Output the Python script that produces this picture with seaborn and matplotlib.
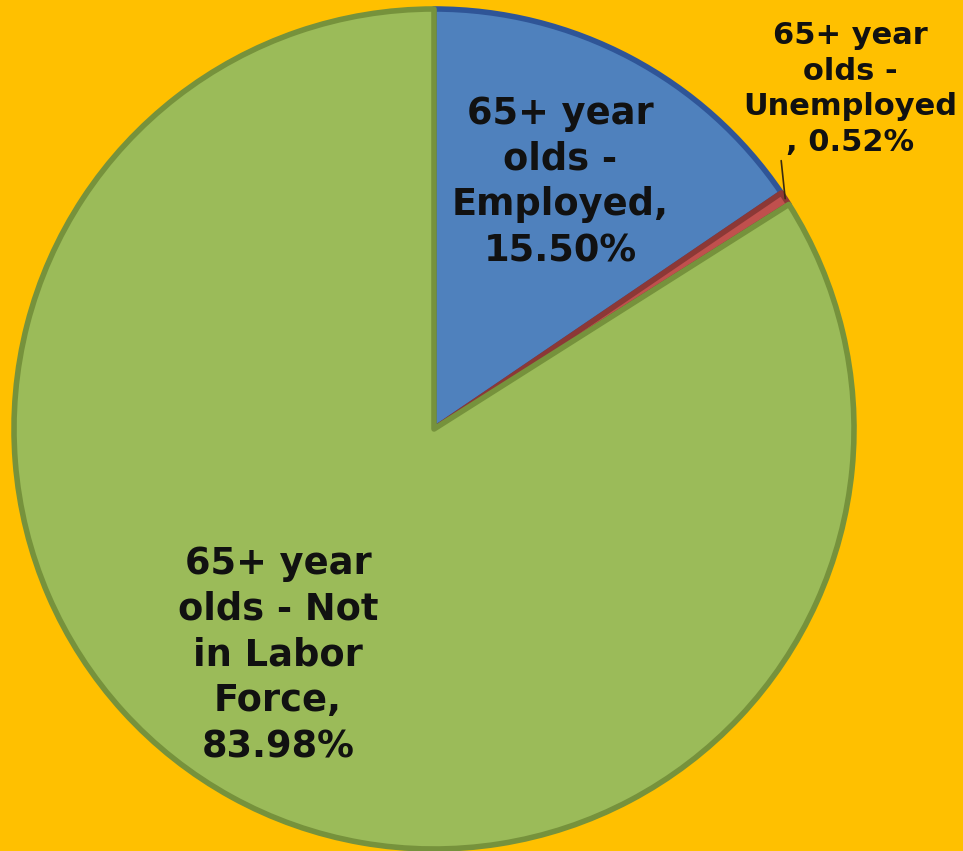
import numpy as np
import matplotlib
matplotlib.use("Agg")
import matplotlib.pyplot as plt
import seaborn as sns

categories = ["65+ year olds - Employed", "65+ year olds - Unemployed",
              "65+ year olds - Not in Labor Force"]
shares = [15.50, 0.52, 83.98]
label_texts = ["65+ year\nolds -\nEmployed,\n15.50%",
               "65+ year\nolds -\nUnemployed\n, 0.52%",
               "65+ year\nolds - Not\nin Labor\nForce,\n83.98%"]

fills = ["#4F81BD", "#C0504D", "#9BBB59"]
edges = ["#2F5597", "#8C3836", "#76923C"]
bg = "#FFC000"

sns.set_style("white")
plt.rcParams["font.family"] = ["DejaVu Sans"]

W, H = 963, 851
fig = plt.figure(figsize=(W / 100, H / 100), dpi=100, facecolor=bg)
ax = fig.add_axes([0, 0, 1, 1])
ax.set_facecolor(bg)

cx, cy, r = 434, H - 429, 420
wedges, _ = ax.pie(shares, startangle=90, counterclock=False, colors=fills,
                   center=(cx, cy), radius=r, frame=True,
                   wedgeprops=dict(linewidth=4, joinstyle="round"))
for w, ec in zip(wedges, edges):
    w.set_edgecolor(ec)
ax.set_xlim(0, W)
ax.set_ylim(0, H)
ax.set_aspect("equal")
ax.axis("off")

# leader line for the thin unemployed slice
w = wedges[1]
mid = np.deg2rad((w.theta1 + w.theta2) / 2)
x0, y0 = cx + r * np.cos(mid), cy + r * np.sin(mid)
ax.plot([x0, x0 - 4], [y0, y0 + 38], color="#3a2a10", lw=1.2)

txt = dict(ha="center", va="center", fontsize=26.5, fontweight="bold",
           color="#111111", linespacing=1.31)
ax.text(560, H - 182, label_texts[0], **txt)
ax.text(850, H - 89, label_texts[1], **dict(txt, fontsize=22, linespacing=1.28))
ax.text(278, H - 655, label_texts[2], **txt)

fig.savefig("out.png", dpi=100, facecolor=bg)
